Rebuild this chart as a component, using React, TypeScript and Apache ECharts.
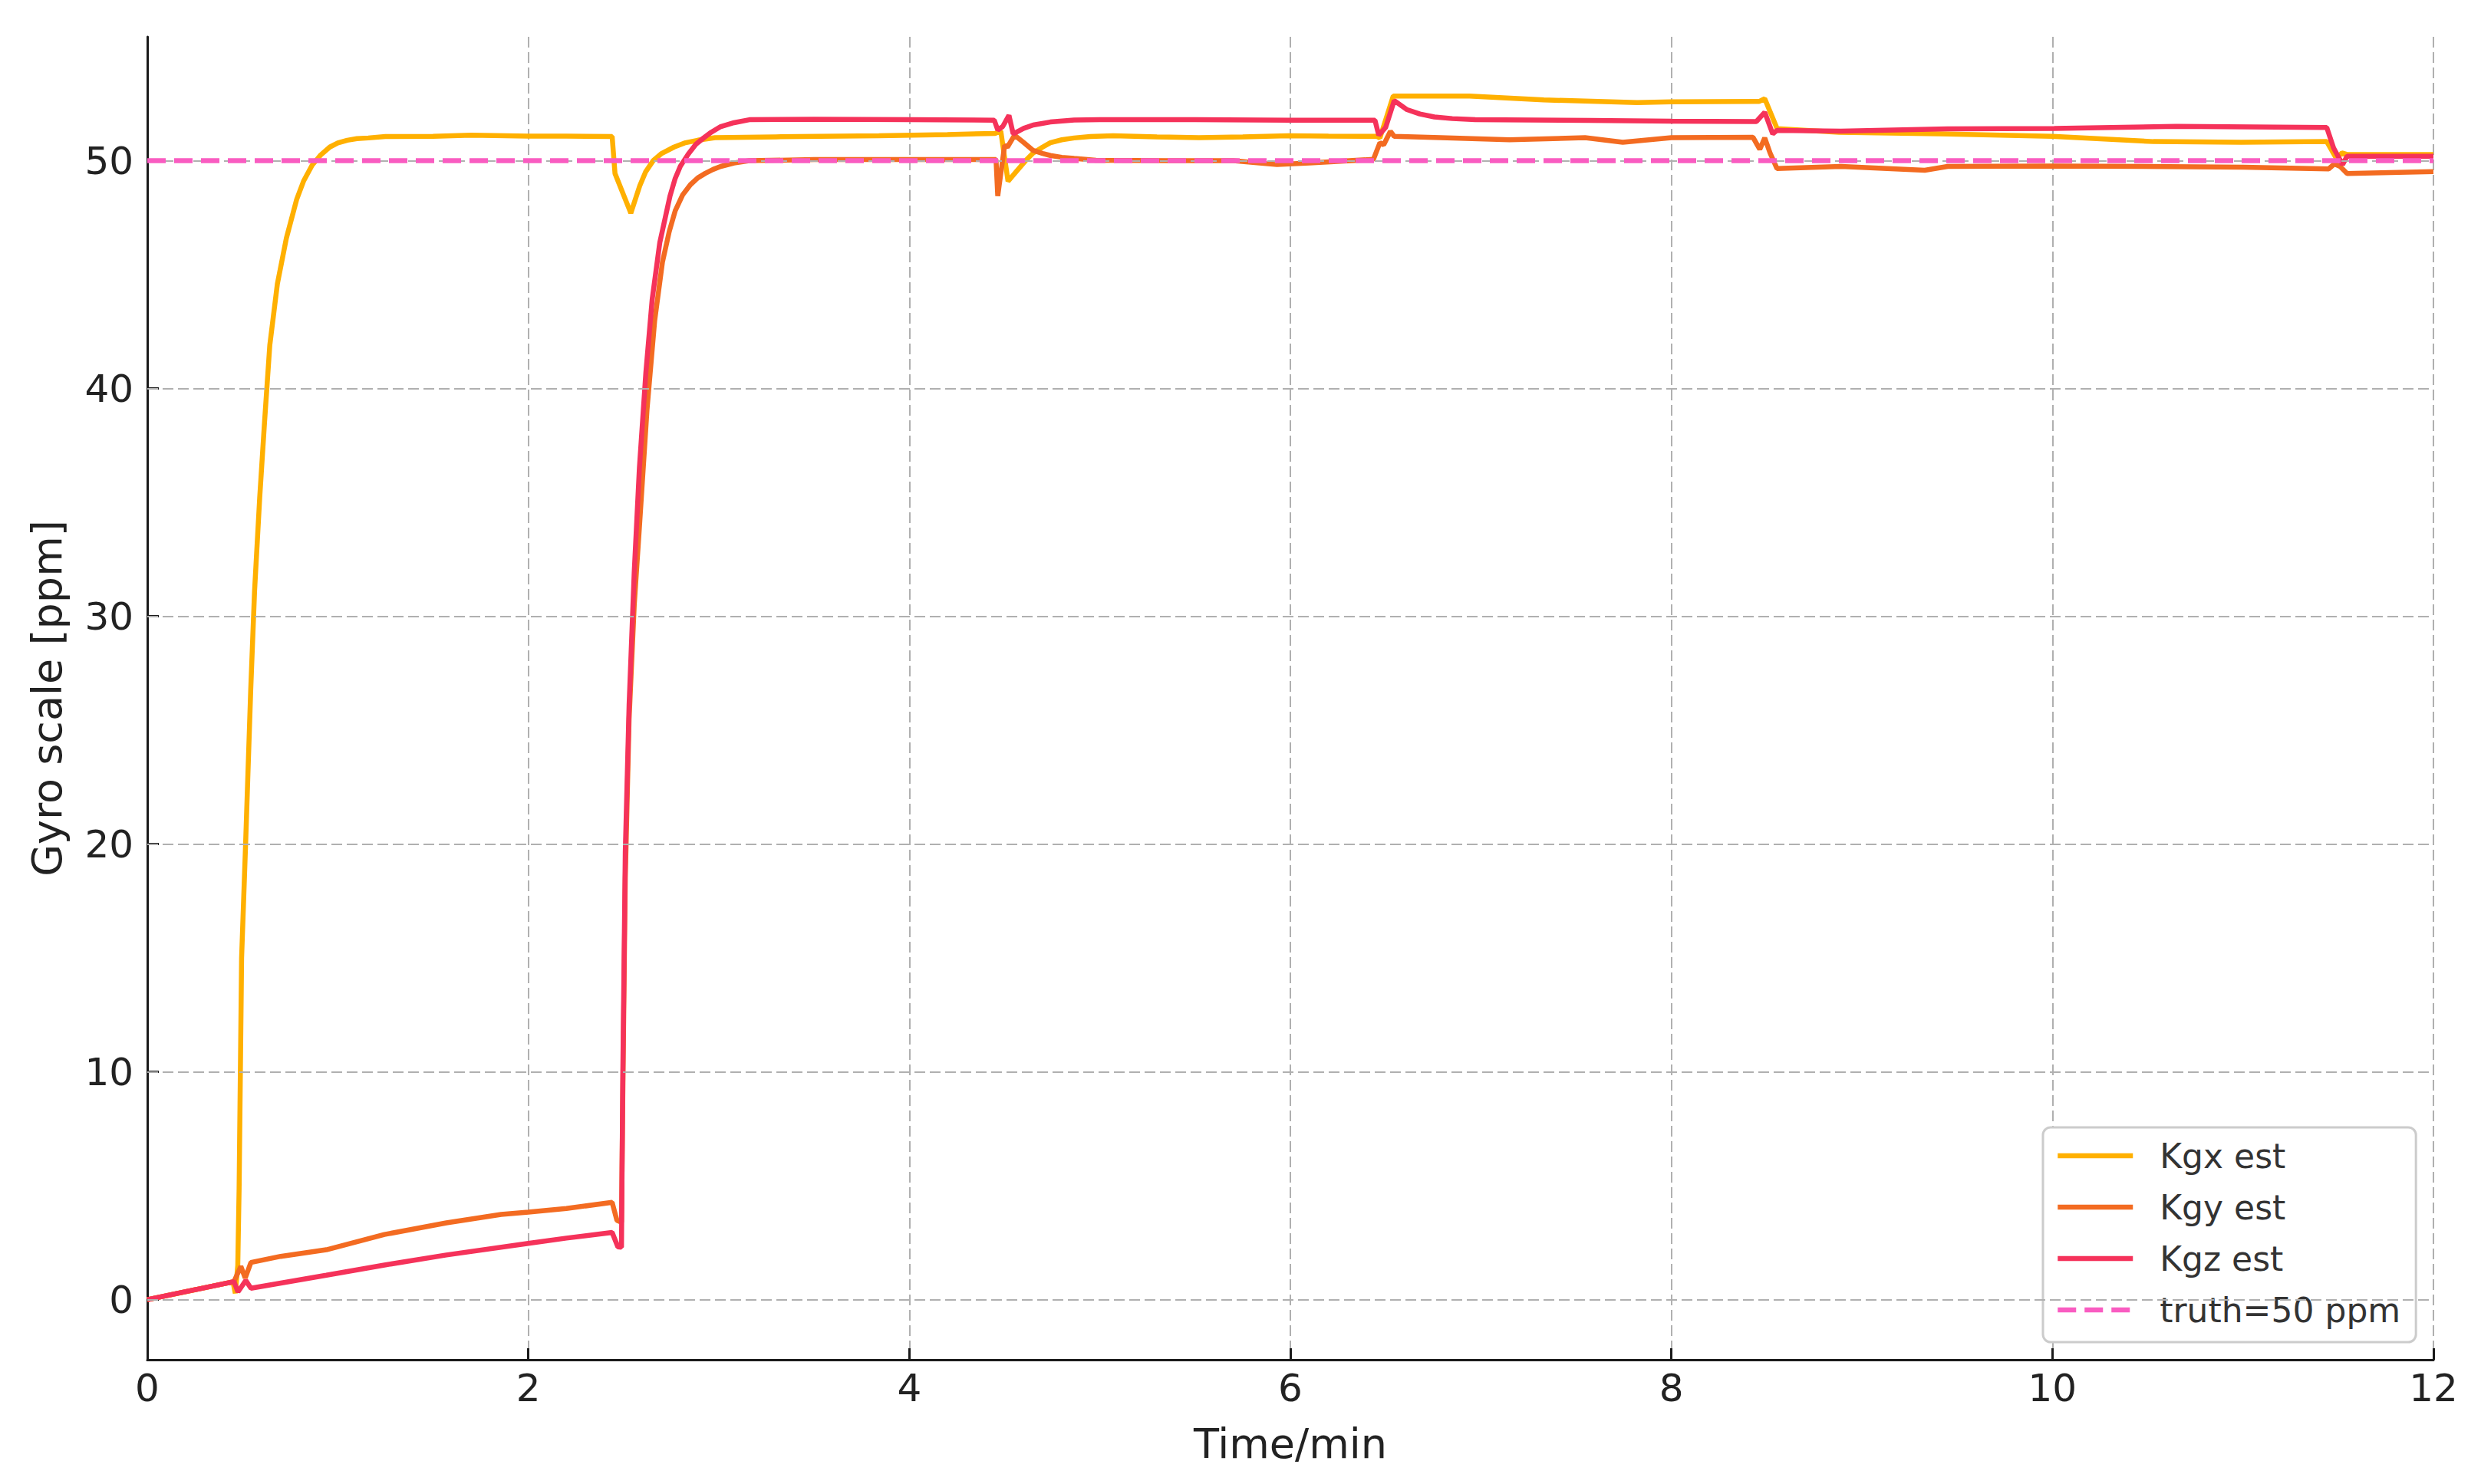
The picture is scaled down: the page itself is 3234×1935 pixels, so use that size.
import React, { useEffect, useRef } from "react";
import * as echarts from "echarts";

// ---- data ----
const kgxTime = [0, 0.45, 0.462, 0.475, 0.482, 0.495, 0.516, 0.543, 0.563, 0.59, 0.616, 0.643, 0.683, 0.73, 0.784, 0.82, 0.865, 0.91, 0.958, 1.0, 1.05, 1.1, 1.16, 1.25, 1.5, 1.7, 2.0, 2.2, 2.44, 2.455, 2.538, 2.585, 2.615, 2.655, 2.7, 2.765, 2.82, 2.89, 2.98, 3.3, 3.84, 4.2, 4.45, 4.48, 4.518, 4.564, 4.61, 4.65, 4.7, 4.74, 4.8, 4.865, 4.95, 5.07, 5.3, 5.52, 5.75, 5.99, 6.2, 6.455, 6.47, 6.54, 6.94, 7.33, 7.82, 8.0, 8.46, 8.49, 8.555, 8.88, 9.41, 10.0, 10.53, 10.99, 11.44, 11.49, 11.52, 11.55, 12.0];
const kgxValue = [0, 0.78, 0.28, 1.5, 4.9, 15.0, 20.0, 26.8, 31.1, 35.2, 38.6, 41.9, 44.6, 46.6, 48.3, 49.1, 49.8, 50.25, 50.6, 50.78, 50.9, 50.97, 51.0, 51.06, 51.07, 51.12, 51.08, 51.08, 51.06, 49.44, 47.7, 48.9, 49.5, 50.0, 50.32, 50.6, 50.78, 50.9, 51.01, 51.05, 51.1, 51.15, 51.2, 51.3, 49.1, 49.55, 50.0, 50.34, 50.6, 50.79, 50.92, 51.0, 51.06, 51.1, 51.05, 51.01, 51.05, 51.1, 51.08, 51.07, 51.0, 52.84, 52.84, 52.67, 52.55, 52.59, 52.6, 52.72, 51.41, 51.25, 51.18, 51.07, 50.84, 50.81, 50.84, 50.11, 50.34, 50.27, 50.27];

const kgyTime = [0, 0.455, 0.491, 0.514, 0.544, 0.7, 0.94, 1.245, 1.57, 1.857, 2.0, 2.2, 2.44, 2.465, 2.489, 2.496, 2.509, 2.529, 2.556, 2.583, 2.623, 2.663, 2.704, 2.74, 2.771, 2.81, 2.851, 2.89, 2.93, 2.97, 3.01, 3.08, 3.16, 3.5, 4.0, 4.455, 4.464, 4.5, 4.515, 4.552, 4.6, 4.65, 4.7, 4.74, 4.8, 4.865, 4.98, 5.5, 5.7, 5.93, 6.1, 6.436, 6.47, 6.49, 6.525, 6.545, 6.79, 7.15, 7.547, 7.745, 8.0, 8.428, 8.464, 8.49, 8.518, 8.554, 8.89, 9.33, 9.45, 10.0, 11.0, 11.45, 11.48, 11.51, 11.547, 12.0];
const kgyValue = [0, 0.79, 1.46, 0.95, 1.63, 1.9, 2.19, 2.86, 3.37, 3.74, 3.84, 4.0, 4.27, 3.48, 3.4, 9.0, 18.5, 25.5, 30.5, 33.9, 39.07, 42.96, 45.55, 46.9, 47.8, 48.5, 48.95, 49.25, 49.45, 49.62, 49.75, 49.9, 50.0, 50.05, 50.05, 50.05, 48.45, 50.67, 50.6, 51.12, 50.8, 50.45, 50.32, 50.23, 50.15, 50.1, 50.02, 50.0, 50.0, 49.83, 49.9, 50.06, 50.79, 50.7, 51.29, 51.07, 51.01, 50.92, 51.01, 50.81, 51.01, 51.03, 50.5, 51.0, 50.34, 49.66, 49.75, 49.58, 49.75, 49.77, 49.72, 49.64, 49.86, 49.75, 49.44, 49.52];

const kgzTime = [0, 0.455, 0.476, 0.517, 0.544, 0.94, 1.245, 1.57, 2.0, 2.2, 2.44, 2.47, 2.489, 2.496, 2.509, 2.529, 2.556, 2.583, 2.617, 2.65, 2.69, 2.744, 2.77, 2.798, 2.84, 2.879, 2.92, 2.96, 3.01, 3.08, 3.16, 3.5, 4.0, 4.446, 4.464, 4.49, 4.523, 4.545, 4.6, 4.65, 4.74, 4.865, 5.0, 5.5, 6.0, 6.444, 6.464, 6.5, 6.545, 6.613, 6.68, 6.756, 6.85, 6.97, 7.57, 8.0, 8.446, 8.49, 8.532, 8.554, 8.89, 9.45, 10.01, 10.65, 11.44, 11.476, 11.523, 11.547, 12.0];
const kgzValue = [0, 0.79, 0.34, 0.84, 0.5, 1.07, 1.52, 1.96, 2.47, 2.7, 2.95, 2.32, 2.3, 9.93, 19.65, 26.1, 31.95, 36.5, 40.7, 43.9, 46.4, 48.46, 49.2, 49.76, 50.3, 50.72, 51.0, 51.25, 51.5, 51.67, 51.8, 51.82, 51.8, 51.78, 51.35, 51.5, 51.99, 51.18, 51.42, 51.57, 51.7, 51.79, 51.8, 51.8, 51.78, 51.78, 51.12, 51.46, 52.64, 52.24, 52.05, 51.92, 51.85, 51.8, 51.77, 51.74, 51.72, 52.13, 51.18, 51.33, 51.3, 51.4, 51.42, 51.51, 51.46, 50.56, 49.83, 50.2, 50.2];

const truthValue = 50;
const truthTime = [0, 12];

const xTicks = [0, 2, 4, 6, 8, 10, 12];
const yTicks = [0, 10, 20, 30, 40, 50];
const yMin = -2.64;
const yMax = 55.44;

const seriesNames = ["Kgx est", "Kgy est", "Kgz est", "truth=50 ppm"];
const seriesColors = ["#FFB000", "#F36B21", "#F5325A", "#F95CC1"];

const FONT = "DejaVu Sans";

function pairs(t: number[], v: number[]) {
  return t.map((x, i) => [x, v[i]]);
}

export default function App() {
  const ref = useRef<HTMLDivElement>(null);

  useEffect(() => {
    if (!ref.current) return;
    const chart = echarts.init(ref.current, undefined, { renderer: "svg" });

    const LW = 6.5;
    const lineSeries = (name: string, color: string, data: number[][], z: number) => ({
      name,
      type: "line",
      data,
      showSymbol: false,
      symbol: "none",
      smooth: false,
      z,
      lineStyle: { color, width: LW },
      itemStyle: { color },
      emphasis: { disabled: true },
    });

    chart.setOption({
      animation: false,
      backgroundColor: "#ffffff",
      textStyle: { fontFamily: FONT },
      grid: { left: 192, top: 48, width: 2980, height: 1725, containLabel: false },
      legend: {
        data: seriesNames,
        orient: "vertical",
        left: 2663,
        top: 1470,
        padding: [15, 20, 20, 16],
        itemWidth: 98,
        itemHeight: 4,
        itemGap: 23,
        backgroundColor: "#ffffff",
        borderColor: "#cccccc",
        borderWidth: 3,
        borderRadius: 10,
        itemStyle: { opacity: 0 },
        lineStyle: { width: LW },
        textStyle: {
          fontFamily: FONT,
          fontSize: 44,
          lineHeight: 44,
          color: "#333333",
          padding: [0, 0, 0, 30],
        },
      },
      xAxis: {
        type: "value",
        min: xTicks[0],
        max: xTicks[xTicks.length - 1],
        interval: 2,
        name: "Time/min",
        nameLocation: "middle",
        nameGap: 82,
        nameTextStyle: { fontFamily: FONT, fontSize: 54, color: "#222222" },
        axisLine: { onZero: false, lineStyle: { color: "#1a1a1a", width: 3 } },
        axisTick: { inside: true, length: 15, lineStyle: { color: "#1a1a1a", width: 3 } },
        axisLabel: { fontFamily: FONT, fontSize: 50, color: "#222222", margin: 12 },
        splitLine: { show: true, lineStyle: { color: "#b0b0b0", width: 2, type: [14, 6] } },
      },
      yAxis: {
        type: "value",
        min: yMin,
        max: yMax,
        name: "Gyro scale [ppm]",
        nameLocation: "middle",
        nameGap: 104,
        nameTextStyle: { fontFamily: FONT, fontSize: 54, color: "#222222" },
        axisLine: { show: true, lineStyle: { color: "#1a1a1a", width: 3 } },
        axisTick: {
          show: true,
          inside: true,
          length: 15,
          customValues: yTicks,
          lineStyle: { color: "#1a1a1a", width: 3 },
        },
        axisLabel: {
          fontFamily: FONT,
          fontSize: 50,
          color: "#222222",
          margin: 18,
          customValues: yTicks,
          formatter: (v: number) => (yTicks.indexOf(v) >= 0 ? String(v) : ""),
        },
        splitLine: { show: false },
      },
      series: [
        {
          name: "grid",
          type: "line",
          data: [],
          z: 1,
          silent: true,
          markLine: {
            silent: true,
            symbol: ["none", "none"],
            label: { show: false },
            animation: false,
            lineStyle: { color: "#b0b0b0", width: 2, type: [14, 6] },
            data: yTicks.map((v) => ({ yAxis: v })),
          },
        },
        lineSeries(seriesNames[0], seriesColors[0], pairs(kgxTime, kgxValue), 2),
        lineSeries(seriesNames[1], seriesColors[1], pairs(kgyTime, kgyValue), 3),
        lineSeries(seriesNames[2], seriesColors[2], pairs(kgzTime, kgzValue), 4),
        {
          name: seriesNames[3],
          type: "line",
          data: truthTime.map((t) => [t, truthValue]),
          showSymbol: false,
          symbol: "none",
          z: 5,
          lineStyle: { color: seriesColors[3], width: LW, type: [24, 11] },
          itemStyle: { color: seriesColors[3] },
          emphasis: { disabled: true },
        },
      ],
    });

    return () => chart.dispose();
  }, []);

  return (
    <div
      ref={ref}
      style={{ position: "absolute", left: 0, top: 0, width: 3234, height: 1935 }}
    />
  );
}
